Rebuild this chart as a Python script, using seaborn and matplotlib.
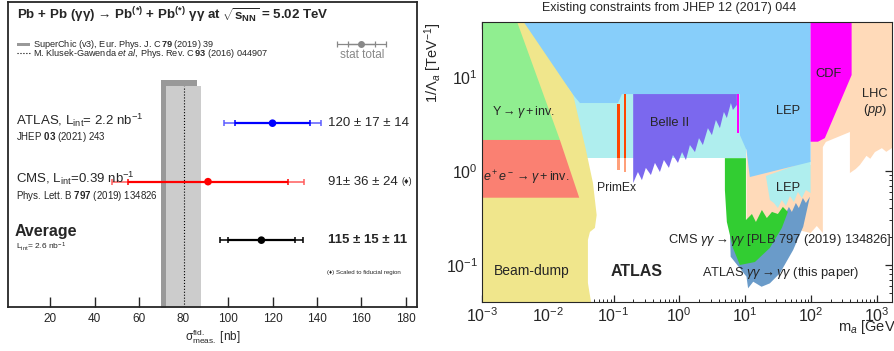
import matplotlib
matplotlib.use("Agg")
import matplotlib.pyplot as plt
from matplotlib.patches import Rectangle
import numpy as np
import seaborn as sns

# ---------------- left panel: measured fiducial cross sections ----------------
meas_names = ["ATLAS", "CMS", "Average"]
meas_val = [120, 91, 115]
meas_stat = [17, 36, 15]
meas_syst = [14, 24, 11]
meas_lumi = ["2.2", "0.39", "2.6"]
meas_refs = [r"JHEP $\mathbf{03}$ (2021) 243", r"Phys. Lett. B $\mathbf{797}$ (2019) 134826", ""]
stat_colors = ["#0000ff", "#ff0000", "#000000"]
total_colors = ["#5c5cff", "#ff5c5c", "#000000"]

superchic_band = [70, 86]
klusek_band = [72, 88]
klusek_central = 80
left_ticks = [20, 40, 60, 80, 100, 120, 140, 160, 180]

# ---------------- right panel: ALP exclusion regions (m_a [GeV], 1/Lambda [TeV^-1]) ----------------
ups_m = [0.001, 0.00336, 0.0153, 0.001]
ups_c = [40, 40, 2.14, 2.14]

ee_m = [0.001, 0.0153, 0.0301, 0.001]
ee_c = [2.14, 2.14, 0.52, 0.52]

beamdump_m = [0.001, 0.00416, 0.0244, 0.0381, 0.0487, 0.0554, 0.0521, 0.0438, 0.0408, 0.0408, 0.047, 0.001]
beamdump_c = [40, 40, 6.44, 1.67, 0.745, 0.34, 0.248, 0.225, 0.185, 0.0644, 0.035, 0.035]

lep_m = [0.00336, 99, 99, 11.8, 10.5, 8.34, 8.34, 0.134, 0.117, 0.0309, 0.0244]
lep_c = [40, 40, 1.25, 0.863, 1.67, 2.41, 6.59, 6.59, 5.29, 5.29, 6.44]

lepgg_m = [0.0217, 10.5, 10.5, 0.0217]
lepgg_c = [7.0, 7.0, 1.37, 1.37]

lepgg2_m = [20.7, 99, 99, 84, 73, 63.4, 55.2, 48, 41.7, 36.2, 31.5, 27.4, 23.8]
lepgg2_c = [0.885, 1.31, 0.583, 0.628, 0.516, 0.598, 0.468, 0.542, 0.425, 0.491, 0.404, 0.457, 0.491]

lhc_m = [10.5, 99, 99, 2000, 2000, 1400, 1200, 940, 800, 700, 556, 480, 392, 392, 169, 152, 152, 123, 99, 48, 16.8, 10.5]
lhc_c = [1.67, 1.16, 40, 40, 1.89, 1.6, 1.75, 1.59, 1.35, 1.45, 1.16, 1.05, 0.952, 2.60, 2.04, 1.80, 0.219, 0.260, 0.219, 0.248, 0.236, 0.267]

cdf_m = [99, 416, 416, 163, 128, 99]
cdf_c = [40, 40, 10.5, 2.24, 2.05, 2.05]

babar_m = [7.50, 8.13, 8.13, 7.50]
babar_c = [6.59, 6.59, 2.54, 2.54]

belle_m = [0.199, 7.50, 7.50, 6.53, 6.08, 5.28, 4.76, 4.14, 3.60, 3.13, 2.72, 2.28, 1.99, 1.73,
           1.45, 1.26, 1.10, 0.953, 0.800, 0.695, 0.583, 0.507, 0.426, 0.370, 0.310, 0.270, 0.235, 0.199]
belle_c = [6.59, 6.59, 5.04, 4.46, 5.29, 3.66, 4.25, 2.86, 3.49, 2.41, 2.86, 1.89, 2.24, 1.59,
           1.89, 1.31, 1.59, 1.22, 1.48, 1.08, 1.31, 0.976, 1.22, 0.906, 1.08, 0.80, 0.976, 0.745]

primex_m = [[0.111, 0.125], [0.144, 0.157]]
primex_top = [5.16, 6.59]
primex_bottom = [1.37, 1.37]
primex_tail = [1.03, 0.976]

atlas_m = [5.87, 6.03, 10.5, 11.1, 13.3, 17.8, 23.8, 33.8, 53.8, 76.4, 96.6, 84, 75.5, 65.6, 59.1,
           51.4, 46.3, 40.3, 33.8, 16.8, 8.34]
atlas_c = [0.236, 0.1225, 0.0752, 0.0565, 0.0664, 0.0587, 0.0638, 0.0817, 0.1445, 0.255, 0.533, 0.457,
           0.516, 0.404, 0.457, 0.367, 0.415, 0.340, 0.340, 0.267, 0.248]

cms_m = [4.93, 10.3, 10.3, 12.7, 14.6, 18.0, 21.4, 25.6, 31.5, 37.5, 44.7, 36.2, 23.8, 14.1, 8.34, 6.53, 5.28, 4.93]
cms_c = [1.37, 1.37, 0.301, 0.349, 0.287, 0.385, 0.316, 0.367, 0.349, 0.415, 0.367, 0.248, 0.152, 0.1076,
         0.1, 0.152, 0.287, 0.628]

# ---------------- style ----------------
sns.set_style("ticks")
plt.rcParams["font.family"] = ["Liberation Sans", "DejaVu Sans"]
plt.rcParams["mathtext.fontset"] = "custom"
plt.rcParams["mathtext.rm"] = "Liberation Sans"
plt.rcParams["mathtext.it"] = "Liberation Sans:italic"
plt.rcParams["mathtext.bf"] = "Liberation Sans:bold"

fig = plt.figure(figsize=(8.95, 3.51), dpi=100)

# ================= left panel =================
axL = fig.add_axes([0.009, 0.125, 0.457, 0.869])
axL.set_xlim(1.1, 185)
axL.set_ylim(-0.145, 5.07)
rows = np.arange(len(meas_names), 0, -1)

axL.fill_betweenx([-0.2, 3.735], superchic_band[0], superchic_band[1], color="#999999", lw=0)
axL.fill_betweenx([-0.2, 3.63], klusek_band[0], klusek_band[1], color="#cccccc", lw=0)
axL.vlines(klusek_central, -0.2, 3.63, colors="k", linestyles=":", lw=0.8)

for i in range(len(meas_names)):
    tot = np.hypot(meas_stat[i], meas_syst[i])
    axL.errorbar(meas_val[i], rows[i], xerr=tot, fmt="none", ecolor=total_colors[i],
                 elinewidth=1.1, capsize=2.3, capthick=1.1)
    axL.errorbar(meas_val[i], rows[i], xerr=meas_stat[i], fmt="none", ecolor=stat_colors[i],
                 elinewidth=1.6, capsize=2.3, capthick=1.1)
sns.scatterplot(x=meas_val, y=rows, hue=meas_names, palette=dict(zip(meas_names, stat_colors)),
                s=30, edgecolor="none", legend=False, ax=axL, zorder=5)

# row labels
for i in range(2):
    axL.text(4.7, rows[i] + 0.05, meas_names[i] + r", L$_{\mathrm{int}}$" +
             ("= " if i == 0 else "=") + meas_lumi[i] + r" nb$^{\mathrm{-1}}$",
             fontsize=9.5, va="center")
    axL.text(4.7, rows[i] - 0.24, meas_refs[i], fontsize=7, va="center")
axL.text(4.1, rows[2] + 0.14, "Average", fontsize=11.5, fontweight="bold", va="center")
axL.text(4.7, rows[2] - 0.12, r"L$_{\mathrm{int}}$= " + meas_lumi[2] + r" nb$^{\mathrm{-1}}$",
         fontsize=6, va="center")

# value labels
for i in range(3):
    s = f"{meas_val[i]} ± {meas_stat[i]} ± {meas_syst[i]}"
    if i == 1:
        s = f"{meas_val[i]}± {meas_stat[i]} ± {meas_syst[i]}"
    axL.text(145, rows[i], s, fontsize=9.5, va="center",
             fontweight="bold" if i == 2 else "normal")
axL.text(178, rows[1], "(♦)", fontsize=6.5, va="center")
axL.text(144.4, 0.44, "(♦) Scaled to fiducial region", fontsize=4.4, va="center")

# header and legend
axL.text(5.0, 4.846, r"Pb + Pb (γγ) → Pb$^{\mathbf{(*)}}$ + Pb$^{\mathbf{(*)}}$ γγ at "
         r"$\sqrt{\mathbf{s}_{\mathbf{NN}}}$ = 5.02 TeV", fontsize=9.6, fontweight="bold", va="center")
axL.add_patch(Rectangle((5.0, 4.316), 6.0, 0.057, color="#999999", lw=0))
axL.plot([5.0, 11.0], [4.195, 4.195], ":", color="k", lw=0.8)
axL.text(12.2, 4.35, r"SuperChic (v3), Eur. Phys. J. C$\,\mathbf{79}$ (2019) 39", fontsize=6.6, va="center")
axL.text(12.2, 4.19, r"M. Klusek-Gawenda $et\ al$, Phys. Rev. C$\,\mathbf{93}$ (2016) 044907",
         fontsize=6.6, va="center")
axL.errorbar(160, 4.36, xerr=11, fmt="none", ecolor="#888888", elinewidth=0.9, capsize=2, capthick=0.9)
axL.errorbar(160, 4.36, xerr=6, fmt="o", color="#888888", ms=4, elinewidth=0.9, capsize=2, capthick=0.9)
axL.text(160.5, 4.16, "stat total", fontsize=8.5, color="#888888", ha="center", va="center")

axL.set_yticks([])
axL.set_xticks(left_ticks)
axL.tick_params(axis="x", direction="in", length=7, width=1, labelsize=8.5, pad=4)
for sp in axL.spines.values():
    sp.set_linewidth(1.3)
axL.set_xlabel(r"$\mathrm{\sigma}^{\mathrm{fid.}}_{\mathrm{meas.}}$ [nb]", fontsize=8.5, labelpad=2)

# ================= right panel =================
axR = fig.add_axes([0.5385, 0.1396, 0.458, 0.7977])
axR.set_xscale("log")
axR.set_yscale("log")
axR.set_xlim(1e-3, 1702)
axR.set_ylim(0.0404, 38.5)

axR.fill(lhc_m, lhc_c, color="#FFDAB9", lw=0)
axR.fill(lepgg_m, lepgg_c, color="#AFEEEE", lw=0)
axR.fill(lepgg2_m, lepgg2_c, color="#AFEEEE", lw=0)
axR.fill(lep_m, lep_c, color="#87CEFA", lw=0)
axR.fill(cdf_m, cdf_c, color="#FF00FF", lw=0)
axR.fill(babar_m, babar_c, color="#FF00FF", lw=0)
axR.fill(belle_m, belle_c, color="#7B68EE", lw=0)
for j in range(len(primex_m)):
    axR.fill_between(primex_m[j], primex_tail[j], primex_bottom[j], color="#FFA07A", lw=0)
    axR.fill_between(primex_m[j], primex_bottom[j], primex_top[j], color="#FF4500", lw=0)
axR.fill(atlas_m, atlas_c, color="#6A9BC9", lw=0)
axR.fill(cms_m, cms_c, color="#32CD32", lw=0)
axR.fill(beamdump_m, beamdump_c, color="#F0E68C", lw=0)
axR.fill(ups_m, ups_c, color="#90EE90", lw=0)
axR.fill(ee_m, ee_c, color="#FA8072", lw=0)

fs = 9.3
axR.text(0.0014, 4.25, r"$\Upsilon \rightarrow \gamma + \mathrm{inv.}$", fontsize=9, va="center")
axR.text(0.00105, 0.843, r"$e^+e^- \rightarrow \gamma + \mathrm{inv.}$", fontsize=9, va="center")
axR.text(0.111, 0.659, "PrimEx", fontsize=8.7, ha="center", va="center")
axR.text(0.719, 3.27, "Belle II", fontsize=fs, ha="center", va="center")
axR.text(44.7, 4.35, "LEP", fontsize=fs, ha="center", va="center")
axR.text(44.7, 0.659, "LEP", fontsize=fs, ha="center", va="center")
axR.text(183, 10.9, "CDF", fontsize=fs, ha="center", va="center")
axR.text(940, 5.29, "LHC\n($pp$)", fontsize=fs, ha="center", va="center", linespacing=1.2)
axR.text(0.678, 0.185, r"CMS $\gamma\gamma \rightarrow \gamma\gamma$ [PLB 797 (2019) 134826]",
         fontsize=fs, va="center")
axR.text(2.18, 0.0828, r"ATLAS $\gamma\gamma \rightarrow \gamma\gamma$ (this paper)", fontsize=fs, va="center")
axR.text(0.2245, 0.0849, "ATLAS", fontsize=11.5, fontweight="bold", ha="center", va="center")
axR.text(0.00569, 0.0871, "Beam-dump", fontsize=10, ha="center", va="center")

axR.tick_params(which="both", direction="in", top=True, right=True, labelsize=11.5)
axR.tick_params(which="major", length=5, width=0.9, pad=3)
axR.tick_params(which="minor", length=2.5, width=0.7)
fig.text(0.7475, 0.976, "Existing constraints from JHEP 12 (2017) 044", fontsize=9, ha="center", va="center")
fig.text(0.484, 0.8205, r"$1/\Lambda_a$ [TeV$^{-1}$]", fontsize=10.5, rotation=90, ha="center", va="center")
fig.text(0.9365, 0.068, r"m$_a$ [GeV]", fontsize=10.5, ha="left", va="center")

fig.savefig("out.png", dpi=100)
